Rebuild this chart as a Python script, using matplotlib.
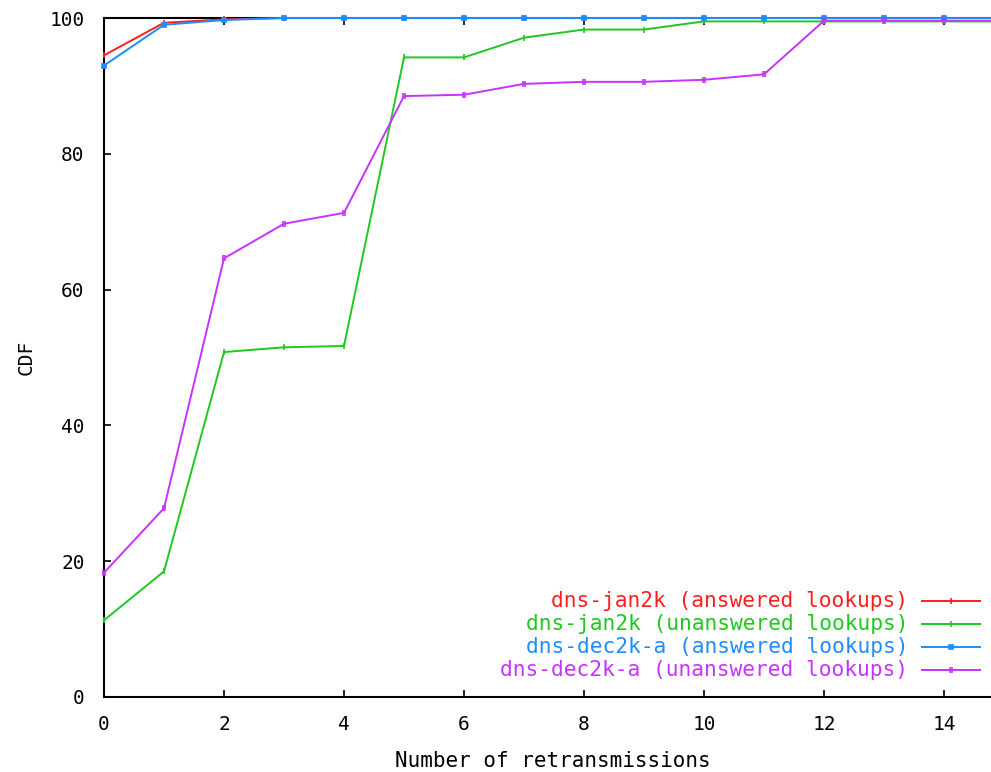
#!/usr/bin/env python3
"""CDF of retransmissions per DNS lookup (gnuplot-style line chart)."""
import matplotlib
matplotlib.use("Agg")
import matplotlib.pyplot as plt
from matplotlib.path import Path
import numpy as np

# number of retransmissions, 0..15
retrans = np.arange(16)

jan2k_answered = [94.5, 99.3, 99.8, 100, 100, 100, 100, 100, 100, 100, 100, 100, 100, 100, 100, 100]
jan2k_unanswered = [11.3, 18.5, 50.8, 51.5, 51.7, 94.2, 94.2, 97.1, 98.3, 98.3, 99.5, 99.5, 99.5, 99.5, 99.5, 99.5]
dec2k_answered = [93.0, 99.0, 99.7, 100, 100, 100, 100, 100, 100, 100, 100, 100, 100, 100, 100, 100]
dec2k_unanswered = [18.3, 27.8, 64.6, 69.7, 71.3, 88.5, 88.7, 90.3, 90.6, 90.6, 90.9, 91.7, 99.6, 99.6, 99.6, 99.6]

# gnuplot's tiny point types: a tick, a double tick, a square
DOUBLE_TICK = Path([(-0.35, -1), (-0.35, 1), (0.35, -1), (0.35, 1)],
                   [Path.MOVETO, Path.LINETO, Path.MOVETO, Path.LINETO])

SERIES = [
    ("dns-jan2k (answered lookups)", jan2k_answered, "#ff1e1e", "|", 5),
    ("dns-jan2k (unanswered lookups)", jan2k_unanswered, "#1ec81e", "|", 5),
    ("dns-dec2k-a (answered lookups)", dec2k_answered, "#1e8cff", "s", 3.5),
    ("dns-dec2k-a (unanswered lookups)", dec2k_unanswered, "#c832ff", DOUBLE_TICK, 5),
]

plt.rcParams["font.family"] = ["DejaVu Sans Mono"]

fig = plt.figure(figsize=(9.91, 7.72), dpi=100)
# plot area runs a little past the right edge of the picture, as in the original
ax = fig.add_axes([104 / 991, 75 / 772, 900 / 991, 679 / 772])

# lines sit on top of the frame, like gnuplot draws them
for label, vals, color, marker, ms in SERIES:
    ax.plot(retrans, vals, color=color, lw=1.4, marker=marker, ms=ms, mew=1.2,
            clip_on=False, zorder=3)

ax.set_xlim(0, 15)
ax.set_ylim(0, 100)
ax.set_xticks(np.arange(0, 15, 2))
ax.set_yticks(np.arange(0, 101, 20))
ax.tick_params(direction="in", length=5, width=1.2, labelsize=14,
               top=True, right=True)
ax.tick_params(axis="x", pad=13)
ax.tick_params(axis="y", pad=14)
for s in ax.spines.values():
    s.set_linewidth(1.5)
ax.set_xlabel("Number of retransmissions", fontsize=15, va="top")
ax.xaxis.set_label_coords((553 - 104) / 900, -(751 - 697) / 679)
ax.set_ylabel("CDF", fontsize=14)
ax.yaxis.set_label_coords(-(104 - 36) / 900, 0.5)

# gnuplot-style key: right-aligned text, sample line to its right
for i, (label, vals, color, marker, ms) in enumerate(SERIES):
    yk = (697 - 601 - i * 23) / 679
    ax.text((908 - 104) / 900, yk, label, transform=ax.transAxes, ha="right",
            va="center", color=color, fontsize=15.3)
    ax.plot([(922 - 104) / 900, (980 - 104) / 900], [yk, yk], transform=ax.transAxes,
            color=color, lw=1.4, clip_on=False)
    ax.plot([(951 - 104) / 900], [yk], transform=ax.transAxes, color=color,
            marker=marker, ms=ms, mew=1.2, clip_on=False)

fig.savefig("out.png", dpi=100)
